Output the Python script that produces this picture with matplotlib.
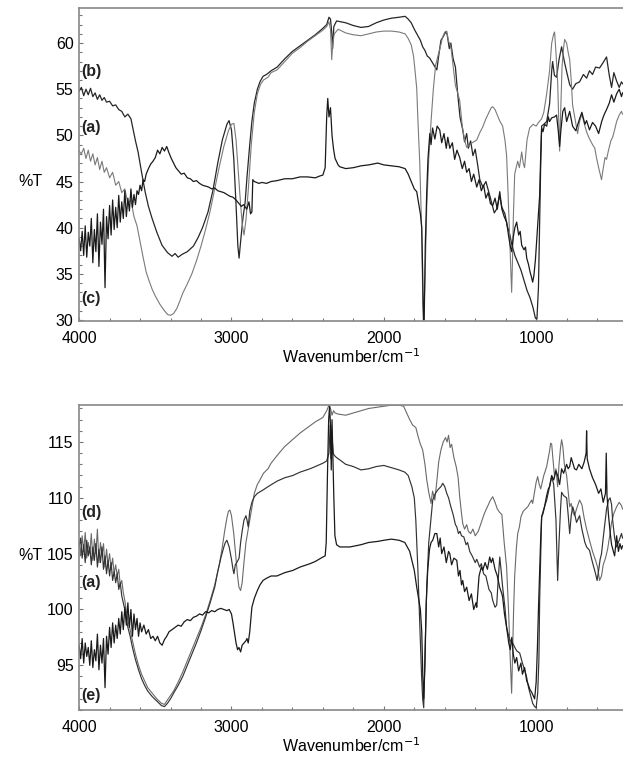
import numpy as np
import matplotlib
matplotlib.use("Agg")
import matplotlib.pyplot as plt

plt.rcParams['font.family'] = ['Liberation Sans', 'DejaVu Sans']

# ---- upper panel: spectra (a), (b), (c)  -> (wavenumber, %T)
top_b = [
    (4000, 54.8), (3985, 55.2), (3970, 54.3), (3955, 55.0), (3940, 54.4), (3925, 55.1), (3910, 54.2),
    (3895, 54.6), (3880, 53.9), (3865, 54.4), (3850, 53.8), (3835, 54.1), (3820, 53.6), (3800, 53.7),
    (3780, 53.2), (3760, 53.3), (3740, 52.8), (3720, 52.6), (3700, 52.0), (3680, 52.3), (3660, 51.8),
    (3645, 50.6), (3630, 49.4), (3613, 48.2), (3590, 46.0), (3567, 43.9), (3545, 42.3), (3521, 41.0),
    (3490, 39.5), (3456, 38.1), (3420, 37.3), (3390, 36.9), (3370, 37.2), (3350, 36.8), (3325, 37.1),
    (3290, 37.4), (3250, 38.0), (3220, 38.9), (3190, 40.0), (3154, 41.7), (3121, 44.1), (3090, 47.0),
    (3060, 49.5), (3030, 51.2), (3016, 51.6), (3000, 50.6), (2985, 47.5), (2970, 42.5), (2958, 38.0),
    (2950, 36.7), (2940, 38.5), (2925, 41.0), (2910, 42.8), (2898, 45.5), (2880, 49.0), (2866, 51.5),
    (2850, 53.5), (2830, 55.0), (2813, 55.8), (2793, 56.4), (2770, 56.6), (2740, 57.0), (2700, 57.4),
    (2650, 58.3), (2600, 59.1), (2550, 59.7), (2500, 60.3), (2450, 60.9), (2400, 61.6), (2375, 62.0),
    (2360, 62.8), (2350, 62.6), (2342, 61.2), (2336, 59.4), (2328, 61.8), (2310, 62.4), (2250, 62.2),
    (2200, 61.9), (2150, 61.7), (2100, 61.8), (2050, 62.2), (2000, 62.5), (1950, 62.7), (1900, 62.8),
    (1860, 62.9), (1840, 62.6), (1820, 62.2), (1800, 61.5), (1780, 60.9), (1760, 60.3), (1745, 59.6),
    (1730, 59.2), (1715, 58.6), (1700, 58.4), (1685, 58.0), (1670, 57.6), (1652, 57.1), (1640, 58.6),
    (1625, 60.3), (1610, 60.7), (1595, 61.2), (1585, 61.0), (1570, 59.4), (1560, 60.0), (1545, 58.3),
    (1530, 57.4), (1515, 54.5), (1500, 52.0), (1482, 50.6), (1470, 49.3), (1456, 50.2), (1445, 48.6),
    (1430, 49.4), (1415, 47.8), (1400, 48.5), (1385, 46.9), (1370, 45.2), (1350, 44.4), (1330, 45.0),
    (1300, 43.2), (1275, 41.6), (1260, 42.0), (1240, 43.5), (1225, 42.2), (1205, 41.5), (1190, 40.2),
    (1175, 39.4), (1160, 38.2), (1140, 37.0), (1120, 36.2), (1100, 35.4), (1080, 34.3), (1060, 33.2),
    (1040, 32.4), (1020, 31.3), (1005, 30.2), (995, 30.1), (985, 33.5), (977, 40.5), (970, 47.0),
    (964, 51.0), (950, 51.2), (931, 51.5), (912, 53.4), (898, 57.0), (892, 58.0), (880, 56.5),
    (866, 56.3), (850, 58.2), (833, 59.6), (815, 58.0), (800, 56.9), (780, 55.5), (761, 55.0),
    (740, 55.6), (715, 55.8), (690, 56.6), (669, 56.2), (650, 57.0), (630, 56.6), (610, 57.4),
    (584, 57.3), (560, 57.9), (538, 58.5), (520, 56.5), (505, 55.2), (490, 56.8), (472, 55.9),
    (455, 55.2), (440, 55.8), (433, 55.6),
]

top_a = [
    (4000, 48.3), (3985, 48.0), (3970, 48.6), (3955, 47.5), (3940, 48.4), (3925, 47.2), (3910, 48.0),
    (3895, 46.8), (3880, 47.6), (3865, 46.3), (3850, 47.2), (3835, 46.0), (3820, 46.5), (3800, 45.4),
    (3780, 46.0), (3760, 44.6), (3740, 45.0), (3720, 43.8), (3700, 44.2), (3680, 42.6), (3660, 43.0),
    (3640, 41.2), (3620, 40.2), (3600, 38.5), (3580, 36.8), (3560, 35.2), (3540, 34.2), (3520, 33.3),
    (3500, 32.6), (3470, 31.7), (3440, 31.0), (3420, 30.6), (3400, 30.5), (3380, 30.7), (3360, 31.2),
    (3340, 32.0), (3320, 32.9), (3290, 33.9), (3260, 35.0), (3230, 36.4), (3200, 38.0), (3170, 39.8),
    (3140, 41.8), (3110, 44.2), (3080, 46.6), (3050, 48.8), (3020, 50.5), (3000, 51.2), (2984, 51.3),
    (2970, 49.5), (2955, 46.0), (2940, 42.5), (2930, 40.5), (2918, 39.2), (2905, 40.8), (2890, 44.0),
    (2870, 49.0), (2850, 52.5), (2830, 54.5), (2810, 55.5), (2790, 56.0), (2760, 56.3), (2740, 56.8),
    (2700, 57.1), (2650, 58.0), (2600, 58.9), (2550, 59.5), (2500, 60.2), (2450, 60.8), (2400, 61.4),
    (2375, 61.8), (2360, 62.3), (2350, 61.5), (2342, 58.2), (2335, 60.0), (2325, 61.0), (2300, 61.5),
    (2250, 61.1), (2200, 60.9), (2150, 60.8), (2100, 61.0), (2050, 61.2), (2000, 61.3), (1950, 61.3),
    (1900, 61.2), (1860, 61.0), (1840, 60.5), (1820, 59.8), (1805, 58.6), (1795, 57.0), (1784, 55.1),
    (1777, 52.0), (1764, 47.0), (1752, 40.0), (1744, 32.0), (1738, 30.1), (1730, 34.0), (1718, 42.4),
    (1705, 47.5), (1690, 51.5), (1675, 55.0), (1660, 57.6), (1645, 58.6), (1630, 59.5), (1615, 60.6),
    (1600, 61.2), (1587, 61.3), (1575, 60.2), (1560, 59.6), (1545, 57.5), (1530, 55.4), (1515, 54.6),
    (1502, 53.8), (1485, 51.0), (1470, 49.5), (1456, 48.7), (1440, 48.9), (1420, 49.2), (1390, 49.5),
    (1370, 50.3), (1351, 50.9), (1330, 51.8), (1310, 52.5), (1295, 53.0), (1285, 53.1), (1270, 52.8),
    (1255, 52.2), (1240, 51.6), (1220, 51.0), (1205, 49.5), (1194, 47.8), (1185, 44.0), (1174, 38.9),
    (1165, 34.5), (1161, 33.0), (1156, 36.0), (1150, 41.0), (1141, 45.8), (1130, 46.6), (1121, 47.2),
    (1110, 46.5), (1095, 48.2), (1085, 47.0), (1076, 46.5), (1060, 49.5), (1043, 50.8), (1020, 51.2),
    (1000, 51.0), (985, 51.4), (964, 51.8), (950, 52.5), (931, 54.5), (912, 57.0), (898, 60.0),
    (885, 61.0), (879, 61.2), (870, 59.0), (859, 55.8), (850, 50.5), (846, 48.3), (840, 52.0),
    (830, 57.5), (820, 59.5), (813, 60.4), (800, 60.0), (790, 59.0), (780, 58.2), (770, 56.0),
    (761, 53.3), (745, 51.8), (728, 50.2), (715, 51.5), (700, 52.3), (680, 51.0), (665, 50.2),
    (649, 49.6), (630, 49.0), (615, 48.6), (603, 47.5), (590, 46.5), (580, 45.8), (571, 45.2),
    (560, 46.4), (548, 47.6), (538, 47.4), (525, 48.4), (510, 49.4), (498, 49.8), (485, 50.6),
    (472, 51.5), (455, 52.2), (440, 52.6), (433, 52.3),
]

top_c = [
    (4000, 38.8), (3990, 37.5), (3980, 39.6), (3970, 37.0), (3960, 40.2), (3950, 36.8), (3940, 39.5),
    (3930, 38.0), (3920, 41.0), (3910, 36.2), (3900, 39.8), (3890, 37.4), (3880, 41.5), (3870, 35.8),
    (3860, 40.6), (3850, 38.2), (3840, 42.0), (3830, 33.5), (3820, 41.2), (3810, 38.8), (3800, 42.4),
    (3790, 39.2), (3780, 43.0), (3770, 39.8), (3760, 42.2), (3750, 40.0), (3740, 43.5), (3730, 40.6),
    (3720, 42.8), (3710, 41.0), (3700, 44.0), (3690, 41.2), (3680, 43.2), (3670, 41.8), (3660, 44.2),
    (3650, 42.2), (3640, 43.6), (3630, 42.5), (3620, 44.0), (3610, 43.6), (3600, 44.6), (3590, 44.0),
    (3580, 45.2), (3570, 45.0), (3560, 45.8), (3545, 46.4), (3530, 46.9), (3515, 47.2), (3500, 47.6),
    (3485, 48.4), (3470, 48.0), (3455, 48.7), (3440, 48.3), (3425, 48.8), (3410, 48.1), (3395, 47.5),
    (3380, 47.0), (3365, 46.5), (3350, 46.2), (3330, 45.8), (3310, 45.9), (3290, 45.4), (3270, 45.3),
    (3250, 45.0), (3230, 45.1), (3210, 44.8), (3190, 44.6), (3170, 44.5), (3150, 44.4), (3130, 44.2),
    (3110, 44.3), (3090, 44.0), (3070, 43.9), (3050, 43.8), (3030, 43.6), (3010, 43.4), (2990, 43.3),
    (2970, 43.0), (2950, 42.6), (2935, 42.3), (2920, 42.5), (2900, 42.0), (2885, 42.8), (2875, 41.5),
    (2866, 41.7), (2860, 45.2), (2850, 45.0), (2820, 44.8), (2800, 44.9), (2770, 44.8), (2740, 45.0),
    (2700, 45.1), (2650, 45.3), (2600, 45.3), (2550, 45.5), (2500, 45.5), (2450, 45.4), (2420, 45.6),
    (2400, 45.7), (2385, 46.5), (2375, 52.0), (2368, 54.0), (2360, 52.0), (2350, 53.0), (2340, 50.0),
    (2330, 48.5), (2320, 47.5), (2300, 46.8), (2289, 46.6), (2250, 46.4), (2200, 46.5), (2150, 46.7),
    (2100, 46.8), (2039, 47.0), (2000, 46.8), (1950, 46.7), (1900, 46.6), (1860, 46.4), (1840, 45.8),
    (1820, 45.0), (1800, 44.2), (1784, 43.9), (1770, 42.5), (1760, 41.5), (1751, 40.0), (1745, 35.0),
    (1740, 30.0), (1735, 30.0), (1728, 38.0), (1718, 44.0), (1710, 47.5), (1698, 50.2), (1690, 49.0),
    (1680, 50.8), (1665, 49.6), (1650, 51.0), (1633, 50.6), (1620, 49.2), (1605, 50.2), (1590, 48.6),
    (1580, 49.8), (1567, 48.6), (1550, 49.2), (1535, 47.4), (1520, 48.4), (1502, 47.6), (1485, 46.4),
    (1470, 47.2), (1456, 46.0), (1440, 46.4), (1425, 45.0), (1410, 45.8), (1390, 44.4), (1375, 45.2),
    (1360, 44.0), (1345, 44.6), (1330, 43.2), (1315, 43.8), (1300, 42.6), (1285, 42.4), (1270, 43.2),
    (1255, 42.0), (1239, 43.9), (1225, 42.0), (1210, 41.2), (1194, 40.6), (1180, 39.0), (1170, 38.0),
    (1161, 37.4), (1150, 39.0), (1140, 40.0), (1128, 40.6), (1115, 39.2), (1105, 39.6), (1095, 38.1),
    (1080, 37.6), (1070, 37.9), (1062, 36.7), (1050, 36.0), (1040, 35.2), (1030, 34.6), (1023, 34.1),
    (1015, 34.8), (1005, 36.5), (995, 39.0), (985, 41.5), (977, 43.5), (970, 48.0), (964, 50.8),
    (955, 50.4), (945, 51.2), (931, 51.0), (920, 52.0), (912, 51.5), (898, 51.9), (880, 52.0),
    (866, 52.2), (855, 50.5), (846, 48.8), (838, 50.5), (825, 52.6), (813, 53.0), (800, 51.5),
    (780, 52.6), (761, 51.0), (740, 50.5), (715, 51.8), (700, 52.5), (680, 51.2), (669, 51.6),
    (650, 50.6), (630, 51.4), (610, 51.0), (590, 50.2), (570, 51.5), (555, 52.2), (538, 52.8),
    (520, 53.5), (505, 54.4), (490, 53.6), (472, 54.5), (455, 55.0), (440, 54.2), (433, 54.6),
]

# ---- lower panel: spectra (a), (d), (e)
bot_d = [
    (4000, 106.2), (3990, 104.8), (3980, 106.6), (3970, 105.2), (3960, 106.9), (3950, 104.6), (3940, 106.0),
    (3930, 105.0), (3920, 106.8), (3910, 104.4), (3900, 106.3), (3890, 105.0), (3880, 107.2), (3870, 104.2),
    (3860, 106.0), (3850, 104.8), (3840, 105.9), (3830, 103.8), (3820, 105.4), (3810, 104.0), (3800, 105.0),
    (3790, 103.6), (3780, 104.6), (3770, 103.2), (3760, 104.0), (3750, 103.0), (3740, 103.6), (3730, 102.2),
    (3720, 102.6), (3710, 101.5), (3700, 100.8), (3690, 99.8), (3680, 99.0), (3665, 98.2), (3650, 97.2),
    (3630, 96.0), (3610, 95.0), (3590, 94.2), (3570, 93.6), (3550, 93.0), (3520, 92.5), (3490, 92.0),
    (3460, 91.6), (3440, 91.5), (3420, 91.9), (3400, 92.3), (3380, 92.7), (3350, 93.5), (3320, 94.4),
    (3290, 95.4), (3260, 96.4), (3230, 97.4), (3200, 98.4), (3170, 99.5), (3140, 100.8), (3110, 102.2),
    (3080, 104.0), (3060, 105.6), (3045, 107.0), (3030, 108.2), (3020, 108.8), (3010, 108.9), (3000, 108.4),
    (2985, 106.8), (2970, 104.5), (2960, 103.0), (2951, 102.0), (2940, 101.7), (2930, 102.4), (2918, 104.2),
    (2905, 106.0), (2890, 107.2), (2870, 108.8), (2850, 110.4), (2830, 111.2), (2813, 111.6), (2790, 112.2),
    (2760, 112.6), (2740, 113.1), (2700, 113.8), (2650, 114.6), (2600, 115.2), (2550, 115.8), (2500, 116.3),
    (2450, 116.8), (2400, 117.2), (2375, 117.8), (2360, 118.3), (2350, 118.0), (2340, 117.4), (2330, 117.8),
    (2320, 117.6), (2300, 117.5), (2250, 117.4), (2200, 117.6), (2150, 117.8), (2100, 118.0), (2050, 118.1),
    (2000, 118.2), (1950, 118.3), (1900, 118.3), (1870, 118.2), (1850, 117.6), (1830, 117.0), (1810, 116.5),
    (1790, 116.3), (1775, 115.5), (1760, 114.8), (1745, 114.3), (1730, 113.0), (1718, 111.6), (1705, 110.5),
    (1690, 109.5), (1680, 110.6), (1665, 109.8), (1652, 111.5), (1640, 113.2), (1625, 114.3), (1610, 115.0),
    (1595, 115.4), (1585, 115.0), (1575, 115.6), (1565, 114.5), (1555, 114.8), (1540, 113.6), (1525, 112.8),
    (1512, 111.8), (1502, 110.1), (1490, 108.6), (1482, 107.7), (1470, 107.2), (1456, 107.6), (1445, 107.0),
    (1430, 106.8), (1415, 107.2), (1400, 106.6), (1390, 106.8), (1380, 107.0), (1370, 107.4), (1355, 108.0),
    (1340, 108.6), (1320, 109.2), (1300, 109.8), (1285, 110.1), (1270, 109.6), (1255, 109.0), (1240, 108.7),
    (1225, 108.5), (1210, 106.0), (1194, 103.8), (1180, 99.5), (1170, 95.5), (1161, 92.5), (1155, 96.0),
    (1148, 100.0), (1141, 103.0), (1130, 105.5), (1121, 106.8), (1110, 107.4), (1100, 108.3), (1085, 108.8),
    (1070, 109.0), (1055, 109.2), (1043, 109.5), (1030, 109.8), (1023, 109.5), (1010, 110.6), (1000, 111.4),
    (990, 111.9), (980, 111.2), (970, 110.8), (960, 111.4), (950, 112.0), (931, 112.8), (920, 113.6),
    (912, 114.2), (905, 114.9), (898, 114.8), (890, 113.5), (880, 112.0), (870, 112.6), (859, 111.0),
    (850, 113.0), (840, 114.5), (833, 115.2), (825, 114.6), (815, 113.0), (800, 112.0), (790, 110.6),
    (780, 109.2), (770, 109.5), (761, 108.8), (748, 108.4), (735, 109.0), (715, 109.8), (700, 109.4),
    (685, 108.2), (669, 107.2), (650, 106.2), (630, 105.2), (610, 104.4), (597, 103.8), (584, 102.6),
    (571, 103.0), (560, 104.0), (545, 104.6), (531, 105.4), (515, 106.8), (505, 107.8), (490, 108.6),
    (472, 109.2), (455, 109.6), (440, 109.3), (433, 109.0),
]

bot_a = [
    (4000, 105.6), (3990, 106.4), (3980, 104.6), (3970, 105.8), (3960, 104.2), (3950, 106.2), (3940, 104.8),
    (3930, 105.6), (3920, 104.0), (3910, 105.6), (3900, 104.4), (3890, 105.9), (3880, 103.8), (3870, 105.4),
    (3860, 104.2), (3850, 105.6), (3840, 103.6), (3830, 104.8), (3820, 103.2), (3810, 104.4), (3800, 103.0),
    (3790, 104.2), (3780, 102.6), (3770, 103.4), (3760, 102.4), (3750, 103.2), (3740, 101.8), (3730, 102.4),
    (3720, 101.2), (3710, 100.6), (3700, 100.0), (3690, 99.2), (3680, 98.4), (3665, 97.6), (3650, 96.6),
    (3630, 95.5), (3610, 94.6), (3590, 93.8), (3570, 93.2), (3550, 92.7), (3520, 92.2), (3490, 91.8),
    (3460, 91.4), (3440, 91.3), (3420, 91.6), (3400, 92.0), (3380, 92.5), (3350, 93.2), (3320, 94.0),
    (3290, 95.0), (3260, 96.0), (3230, 97.0), (3200, 98.1), (3170, 99.3), (3140, 100.6), (3110, 102.0),
    (3090, 103.4), (3070, 104.6), (3050, 105.6), (3040, 106.0), (3030, 106.2), (3015, 105.6), (3000, 104.5),
    (2990, 103.6), (2984, 103.2), (2975, 104.0), (2965, 104.2), (2950, 104.6), (2940, 106.0), (2930, 107.0),
    (2918, 108.0), (2905, 108.4), (2898, 108.0), (2890, 107.4), (2880, 108.8), (2866, 109.6), (2850, 110.1),
    (2830, 110.4), (2793, 110.7), (2760, 111.0), (2700, 111.5), (2650, 111.8), (2597, 112.0), (2550, 112.3),
    (2485, 112.6), (2450, 112.8), (2400, 113.1), (2375, 113.3), (2360, 114.0), (2352, 116.5), (2347, 113.5),
    (2340, 115.5), (2332, 114.0), (2325, 113.8), (2310, 113.6), (2289, 113.4), (2250, 113.0), (2200, 112.8),
    (2150, 112.5), (2100, 112.6), (2050, 112.8), (2000, 112.9), (1950, 112.7), (1900, 112.5), (1862, 112.3),
    (1840, 112.0), (1816, 111.0), (1800, 110.0), (1790, 108.0), (1777, 103.8), (1765, 99.0), (1752, 94.0),
    (1745, 92.0), (1738, 91.2), (1730, 96.0), (1718, 102.0), (1705, 106.0), (1690, 108.2), (1679, 109.8),
    (1665, 110.3), (1652, 110.6), (1640, 110.8), (1625, 111.0), (1613, 111.3), (1600, 111.0), (1587, 110.4),
    (1575, 110.0), (1560, 109.2), (1545, 108.5), (1530, 107.6), (1521, 107.4), (1510, 106.8), (1500, 107.0),
    (1490, 106.6), (1475, 106.5), (1460, 105.8), (1450, 106.0), (1436, 105.2), (1420, 104.8), (1400, 104.2),
    (1390, 104.5), (1371, 103.8), (1360, 104.1), (1345, 103.2), (1330, 103.0), (1310, 101.8), (1295, 101.5),
    (1285, 100.8), (1270, 100.2), (1259, 100.4), (1250, 102.5), (1239, 104.7), (1230, 103.5), (1220, 102.0),
    (1205, 100.2), (1194, 98.4), (1180, 97.6), (1170, 97.2), (1154, 97.0), (1140, 96.6), (1128, 96.3),
    (1108, 96.1), (1090, 95.2), (1076, 94.6), (1062, 93.9), (1050, 93.0), (1035, 92.2), (1023, 91.6),
    (1010, 91.3), (1000, 91.2), (990, 92.5), (982, 95.5), (977, 100.8), (970, 105.0), (964, 108.3),
    (950, 109.0), (931, 109.8), (915, 110.8), (898, 111.9), (885, 111.2), (870, 108.0), (859, 102.6),
    (850, 106.0), (840, 109.0), (833, 110.5), (820, 110.2), (800, 110.0), (790, 108.5), (780, 106.8),
    (770, 108.4), (760, 109.2), (748, 108.6), (735, 107.8), (715, 108.4), (700, 107.2), (680, 106.0),
    (669, 105.6), (650, 105.3), (630, 104.2), (610, 103.2), (600, 102.6), (590, 103.5), (580, 104.5),
    (571, 105.0), (560, 106.4), (545, 108.2), (538, 109.0), (525, 109.8), (515, 110.0), (505, 109.4),
    (498, 108.0), (485, 106.4), (472, 105.6), (455, 106.2), (440, 106.8), (433, 106.4),
]

bot_e = [
    (4000, 96.8), (3990, 95.6), (3980, 97.4), (3970, 95.2), (3960, 97.0), (3950, 95.8), (3940, 96.6),
    (3930, 95.0), (3920, 97.2), (3910, 94.8), (3900, 96.4), (3890, 95.4), (3880, 97.8), (3870, 94.6),
    (3860, 96.8), (3850, 95.2), (3840, 97.4), (3830, 93.0), (3820, 97.6), (3810, 96.0), (3800, 98.4),
    (3790, 96.6), (3780, 98.8), (3770, 97.0), (3760, 98.6), (3750, 97.4), (3740, 99.2), (3730, 97.8),
    (3720, 99.8), (3710, 98.2), (3700, 100.2), (3690, 98.6), (3680, 100.6), (3670, 98.4), (3660, 100.0),
    (3650, 97.6), (3640, 99.6), (3630, 98.2), (3620, 99.2), (3610, 97.6), (3600, 98.8), (3590, 98.0),
    (3575, 98.6), (3560, 97.8), (3545, 98.2), (3530, 97.4), (3515, 97.6), (3500, 97.2), (3485, 97.6),
    (3470, 97.0), (3455, 96.8), (3440, 97.3), (3425, 97.6), (3410, 98.0), (3390, 98.2), (3370, 98.4),
    (3350, 98.6), (3330, 98.5), (3310, 98.9), (3290, 99.1), (3270, 99.0), (3250, 99.3), (3230, 99.4),
    (3210, 99.6), (3190, 99.5), (3170, 99.8), (3150, 99.7), (3130, 99.9), (3110, 99.8), (3090, 100.0),
    (3070, 100.1), (3050, 100.0), (3030, 99.9), (3015, 100.0), (3000, 99.6), (2990, 98.8), (2980, 97.9),
    (2970, 97.0), (2960, 96.4), (2951, 96.6), (2940, 96.2), (2930, 96.8), (2918, 97.0), (2905, 97.2),
    (2898, 97.4), (2890, 97.0), (2880, 98.0), (2866, 100.2), (2850, 101.0), (2830, 101.7), (2813, 102.2),
    (2793, 102.6), (2770, 102.8), (2740, 103.0), (2702, 103.0), (2650, 103.3), (2597, 103.5), (2550, 103.8),
    (2485, 104.1), (2450, 104.3), (2400, 104.7), (2385, 104.8), (2378, 106.0), (2370, 112.0), (2362, 117.0),
    (2356, 118.2), (2350, 116.5), (2345, 112.5), (2340, 117.0), (2335, 114.0), (2328, 110.0), (2321, 106.6),
    (2310, 105.8), (2289, 105.6), (2250, 105.6), (2223, 105.6), (2150, 105.8), (2100, 106.0), (2039, 106.1),
    (2000, 106.2), (1950, 106.3), (1900, 106.2), (1862, 106.0), (1830, 105.2), (1816, 104.4), (1800, 103.5),
    (1784, 102.0), (1770, 100.8), (1760, 100.0), (1751, 98.0), (1744, 94.0), (1738, 92.0), (1730, 95.0),
    (1722, 100.5), (1712, 103.5), (1700, 105.4), (1690, 106.0), (1679, 106.2), (1665, 106.8), (1652, 106.8),
    (1640, 105.6), (1630, 106.4), (1620, 105.0), (1605, 105.6), (1590, 104.2), (1575, 105.2), (1567, 105.0),
    (1555, 104.0), (1540, 104.6), (1521, 104.4), (1510, 103.0), (1500, 103.5), (1490, 102.2), (1482, 102.6),
    (1470, 101.6), (1456, 102.0), (1440, 100.8), (1425, 101.4), (1410, 100.0), (1395, 100.6), (1390, 100.2),
    (1375, 103.0), (1360, 103.8), (1351, 103.5), (1335, 104.2), (1320, 103.6), (1305, 104.7), (1295, 104.2),
    (1285, 104.6), (1270, 103.6), (1255, 103.0), (1240, 102.0), (1225, 101.4), (1220, 101.1), (1208, 99.6),
    (1194, 98.4), (1180, 97.0), (1170, 96.4), (1160, 97.5), (1150, 96.0), (1140, 95.2), (1128, 95.7),
    (1115, 94.5), (1100, 95.2), (1090, 94.2), (1076, 94.8), (1062, 93.6), (1050, 93.2), (1040, 92.8),
    (1030, 92.6), (1020, 92.3), (1010, 92.0), (1000, 93.5), (992, 96.5), (985, 100.0), (977, 103.5),
    (970, 106.5), (964, 108.3), (955, 108.6), (945, 109.2), (931, 110.2), (920, 110.8), (912, 111.0),
    (898, 112.0), (885, 111.6), (870, 112.4), (859, 112.0), (846, 111.2), (833, 112.6), (820, 112.2),
    (800, 113.0), (790, 112.6), (780, 112.8), (770, 113.6), (761, 113.2), (748, 112.6), (735, 112.5),
    (720, 113.0), (700, 112.6), (685, 113.2), (672, 114.0), (669, 116.0), (665, 113.5), (650, 112.6),
    (630, 111.8), (610, 111.2), (590, 110.4), (575, 110.8), (560, 109.6), (545, 110.4), (540, 114.0),
    (535, 110.2), (525, 108.4), (515, 107.0), (505, 105.8), (495, 105.3), (485, 104.8), (472, 106.6),
    (460, 105.2), (450, 105.9), (440, 105.4), (433, 105.7),
]

top_labels = ['(b)', '(a)', '(c)']
top_label_y = [56.9, 50.8, 32.3]
bot_labels = ['(d)', '(a)', '(e)']
bot_label_y = [108.7, 102.4, 92.3]
top_yticks = [30, 35, 40, 45, 50, 55, 60]
bot_yticks = [95, 100, 105, 110, 115]
xticks = [4000, 3000, 2000, 1000]


def style_axes(ax, ylim, yticks, minor_step):
    ax.set_xlim(4000, 430)
    ax.set_ylim(*ylim)
    ax.set_xticks(xticks)
    ax.set_xticks(np.arange(4000, 400, -200), minor=True)
    ax.set_yticks(yticks)
    ax.set_yticks(np.arange(np.ceil(ylim[0]), ylim[1], minor_step), minor=True)
    ax.tick_params(which='both', direction='in', color='#777', labelsize=11.5, width=0.8)
    ax.tick_params(which='major', length=3)
    ax.tick_params(axis='x', which='major', pad=7)
    ax.tick_params(axis='y', which='major', pad=4)
    ax.tick_params(which='minor', length=2)
    for s in ['left', 'bottom', 'top']:
        ax.spines[s].set_color('#888')
        ax.spines[s].set_linewidth(1.2)
    ax.spines['right'].set_visible(False)
    ax.set_xlabel('Wavenumber/cm$^{-1}$', fontsize=11.5, labelpad=1)


fig = plt.figure(figsize=(6.23, 7.64), dpi=100)
ax1 = fig.add_axes([0.127, 0.580, 0.873, 0.4095])
ax2 = fig.add_axes([0.127, 0.0707, 0.873, 0.399])

for data, col, lw in [(top_b, '#262626', 0.9), (top_a, '#7a7a7a', 0.8), (top_c, '#1a1a1a', 0.9)]:
    arr = np.array(data)
    ax1.plot(arr[:, 0], arr[:, 1], color=col, lw=lw)

for data, col, lw in [(bot_d, '#6a6a6a', 0.8), (bot_a, '#333333', 0.85), (bot_e, '#1a1a1a', 0.9)]:
    arr = np.array(data)
    ax2.plot(arr[:, 0], arr[:, 1], color=col, lw=lw)

style_axes(ax1, (29.9, 63.8), top_yticks, 1)
style_axes(ax2, (91.0, 118.3), bot_yticks, 1)

for lab, y in zip(top_labels, top_label_y):
    ax1.text(3985, y, lab, fontsize=11.5, fontweight='bold', ha='left', va='center', color='#222')
for lab, y in zip(bot_labels, bot_label_y):
    ax2.text(3985, y, lab, fontsize=11.5, fontweight='bold', ha='left', va='center', color='#222')

ax1.text(-0.09, 0.444, '%T', transform=ax1.transAxes, fontsize=11.5, ha='center', va='center')
ax2.text(-0.09, 0.508, '%T', transform=ax2.transAxes, fontsize=11.5, ha='center', va='center')

fig.savefig('out.png', dpi=100)
